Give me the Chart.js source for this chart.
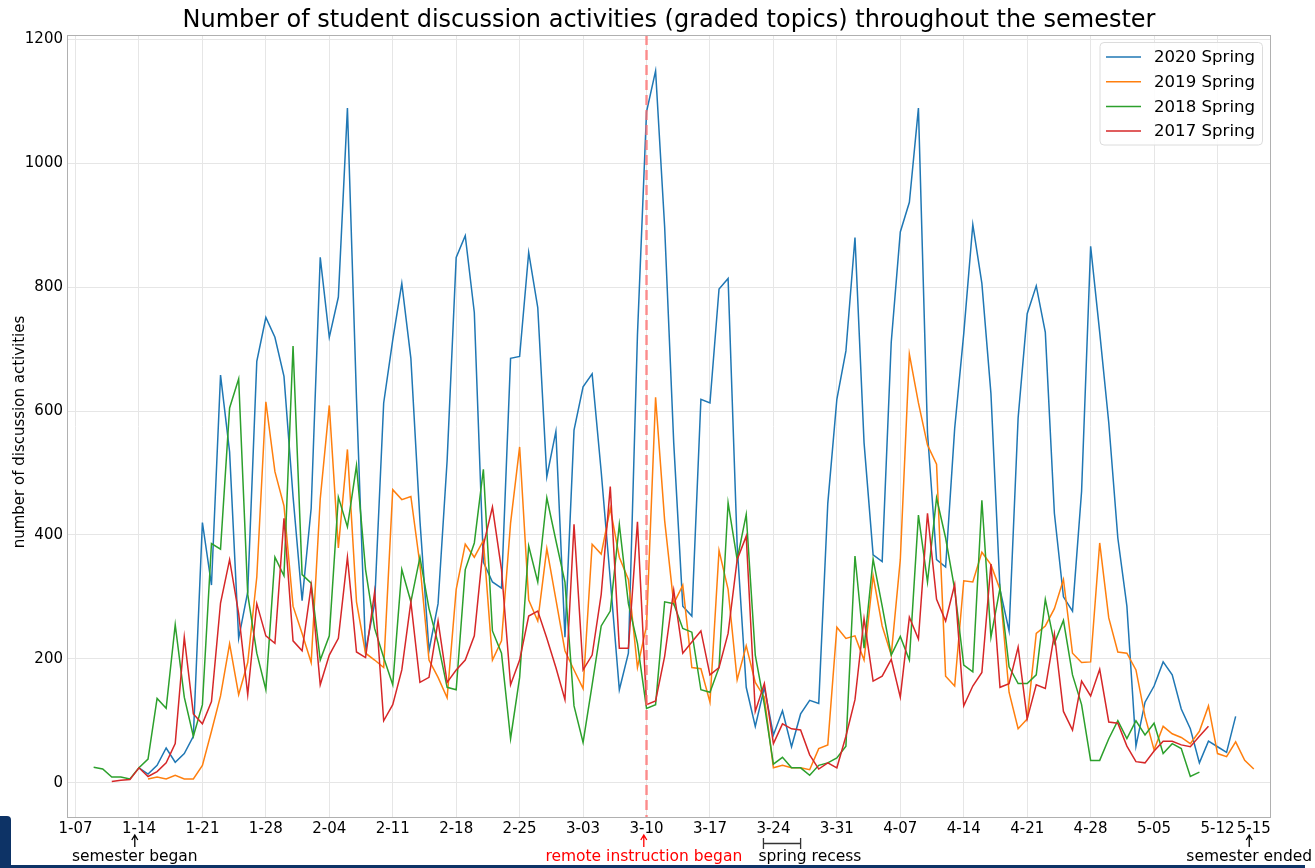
<!DOCTYPE html>
<html>
<head>
<meta charset="utf-8">
<script src="https://cdn.jsdelivr.net/npm/chart.js@4.4.1/dist/chart.umd.min.js"></script>
<style>
  html, body { margin: 0; padding: 0; background: #fff; }
  #wrap { position: relative; width: 1315px; height: 868px; overflow: hidden; }
  #chart { display: block; }
  .navy-block { position: absolute; left: 0; top: 816px; width: 11px; height: 52px; background: #0d3366; border-top-right-radius: 4px; }
  .navy-line { position: absolute; left: 0; top: 865px; width: 1305px; height: 3px; background: #0d3366; }
</style>
</head>
<body>
<div id="wrap">
  <canvas id="chart" width="1315" height="868"></canvas>
  <div class="navy-block"></div>
  <div class="navy-line"></div>
</div>
<script>
// 学期中のディスカッション件数（日別）。x は 1-07 からの経過日数。
const FONT = "'DejaVu Sans', sans-serif";

const TICK_DAYS = [0, 7, 14, 21, 28, 35, 42, 49, 56, 63, 70, 77, 84, 91, 98, 105, 112, 119, 126, 130];
const TICK_LABELS = ["1-07", "1-14", "1-21", "1-28", "2-04", "2-11", "2-18", "2-25", "3-03", "3-10",
  "3-17", "3-24", "3-31", "4-07", "4-14", "4-21", "4-28", "5-05", "5-12", "5-15"];
const Y_TICKS = [0, 200, 400, 600, 800, 1000, 1200];

const SERIES_NAMES = ["2020 Spring", "2019 Spring", "2018 Spring", "2017 Spring"];
const SERIES_COLORS = ["#1f77b4", "#ff7f0e", "#2ca02c", "#d62728"];

// first day of each series (days since 1-07)
const START_2020 = 7;
const START_2019 = 8;
const START_2018 = 2;
const START_2017 = 4;

const COUNTS_2020 = [24, 14, 28, 56, 33, 47, 75, 420, 319, 658, 534, 233, 308, 680, 751, 719, 656, 462, 294, 443,
  848, 719, 784, 1089, 620, 213, 289, 613, 715, 806, 685, 423, 213, 289, 520, 848, 883, 759, 356, 324,
  314, 685, 688, 856, 767, 494, 567, 235, 569, 639, 660, 502, 328, 150, 209, 723, 1083, 1149, 897, 549,
  285, 269, 619, 613, 797, 814, 383, 154, 91, 154, 77, 116, 58, 111, 133, 128, 451, 619, 697, 880,
  549, 368, 357, 711, 889, 937, 1089, 565, 360, 348, 572, 725, 901, 806, 628, 312, 245, 589, 757, 802,
  727, 435, 300, 277, 470, 866, 727, 581, 395, 285, 59, 130, 156, 195, 174, 119, 87, 32, 67, 58, 49, 107];

const COUNTS_2019 = [6, 9, 6, 12, 6, 6, 28, 83, 140, 224, 142, 194, 332, 615, 502, 447, 285, 241, 194, 458,
  609, 379, 538, 292, 209, 198, 186, 473, 457, 462, 352, 198, 170, 137, 312, 385, 364, 391, 198, 229,
  419, 542, 295, 261, 378, 296, 213, 182, 152, 385, 369, 443, 364, 328, 186, 253, 622, 423, 289, 319,
  186, 184, 130, 375, 312, 166, 221, 162, 138, 24, 28, 24, 24, 21, 55, 61, 251, 233, 237, 198,
  334, 253, 206, 360, 692, 613, 545, 514, 172, 156, 326, 324, 372, 352, 312, 146, 87, 103, 241, 253,
  281, 328, 209, 194, 195, 387, 266, 211, 209, 182, 107, 53, 91, 79, 73, 63, 83, 124, 47, 42, 66, 36, 22];

const COUNTS_2018 = [25, 22, 9, 9, 6, 24, 38, 136, 120, 255, 138, 75, 126, 386, 377, 605, 652, 304, 209, 150,
  364, 334, 705, 336, 322, 198, 237, 461, 413, 512, 344, 249, 202, 158, 344, 292, 364, 281, 225, 154,
  150, 344, 387, 506, 245, 209, 71, 170, 382, 324, 460, 391, 324, 124, 65, 158, 253, 277, 417, 289,
  225, 120, 126, 292, 289, 249, 243, 150, 146, 186, 452, 360, 433, 206, 126, 30, 41, 24, 24, 12,
  28, 32, 40, 59, 366, 217, 361, 285, 206, 236, 198, 432, 324, 460, 395, 312, 190, 179, 456, 235,
  314, 187, 160, 160, 174, 296, 225, 262, 174, 126, 36, 36, 71, 100, 71, 100, 77, 96, 47, 63, 55, 10, 17];

const COUNTS_2017 = [2, 4, 5, 24, 10, 18, 32, 63, 235, 111, 95, 131, 290, 360, 273, 142, 289, 237, 225, 427,
  229, 213, 318, 158, 206, 233, 364, 211, 202, 308, 100, 126, 182, 292, 162, 170, 261, 162, 182, 198,
  237, 383, 445, 344, 158, 198, 269, 277, 233, 186, 134, 417, 182, 206, 304, 478, 217, 217, 421, 126,
  132, 204, 311, 209, 227, 245, 174, 186, 241, 360, 398, 115, 160, 63, 95, 87, 85, 45, 22, 32,
  24, 75, 134, 265, 164, 172, 199, 138, 267, 232, 435, 296, 261, 320, 124, 156, 178, 353, 154, 160,
  219, 103, 158, 152, 240, 115, 85, 164, 140, 183, 98, 96, 59, 34, 32, 51, 67, 67, 61, 58, 75, 91];

const REMOTE_DAY = 63;

const toPoints = (start, values) => values.map((v, i) => ({ x: start + i, y: v }));

const seriesData = [
  toPoints(START_2020, COUNTS_2020),
  toPoints(START_2019, COUNTS_2019),
  toPoints(START_2018, COUNTS_2018),
  toPoints(START_2017, COUNTS_2017),
];

function arrowUp(ctx, x, yTop, yBottom, color) {
  ctx.save();
  ctx.strokeStyle = color;
  ctx.lineWidth = 1.3;
  ctx.beginPath();
  ctx.moveTo(x, yBottom);
  ctx.lineTo(x, yTop);
  ctx.moveTo(x - 3, yTop + 5);
  ctx.lineTo(x, yTop);
  ctx.lineTo(x + 3, yTop + 5);
  ctx.stroke();
  ctx.restore();
}

const decorations = {
  id: "decorations",
  afterDatasetsDraw(chart) {
    const { ctx, chartArea: a, scales: { x } } = chart;
    // 遠隔授業開始の破線
    const rx = x.getPixelForValue(REMOTE_DAY);
    ctx.save();
    ctx.strokeStyle = "rgba(255,110,110,0.75)";
    ctx.lineWidth = 2.5;
    ctx.setLineDash([10, 5]);
    ctx.beginPath();
    ctx.moveTo(rx, a.top);
    ctx.lineTo(rx, a.bottom);
    ctx.stroke();
    ctx.restore();
  },
  afterDraw(chart) {
    const { ctx, chartArea: a, scales: { x } } = chart;
    ctx.save();

    // frame
    ctx.strokeStyle = "#b0b0b0";
    ctx.lineWidth = 1;
    ctx.strokeRect(a.left + 0.5, a.top + 0.5, a.right - a.left - 1, a.bottom - a.top - 1);

    // title
    ctx.fillStyle = "#000";
    ctx.font = `24px ${FONT}`;
    ctx.textAlign = "center";
    ctx.textBaseline = "alphabetic";
    ctx.fillText("Number of student discussion activities (graded topics) throughout the semester", (a.left + a.right) / 2, 27);

    // y label
    ctx.save();
    ctx.translate(20, 432);
    ctx.rotate(-Math.PI / 2);
    ctx.font = `15px ${FONT}`;
    ctx.textBaseline = "middle";
    ctx.fillText("number of discussion activities", 0, 0);
    ctx.restore();

    // legend
    const lx = 1100, ly = 42.5, lw = 162.5, lh = 102.5;
    ctx.beginPath();
    ctx.roundRect(lx, ly, lw, lh, 4);
    ctx.fillStyle = "rgba(255,255,255,0.85)";
    ctx.fill();
    ctx.strokeStyle = "#dcdcdc";
    ctx.stroke();
    ctx.font = `16.6px ${FONT}`;
    ctx.textAlign = "left";
    ctx.textBaseline = "middle";
    chart.data.datasets.forEach((ds, i) => {
      const y = 57 + i * 24.7;
      ctx.strokeStyle = ds.borderColor;
      ctx.lineWidth = 1.5;
      ctx.beginPath();
      ctx.moveTo(1106, y);
      ctx.lineTo(1141, y);
      ctx.stroke();
      ctx.fillStyle = "#000";
      ctx.fillText(ds.label, 1154, y + 1);
    });

    // annotations under the axis
    ctx.font = `15.5px ${FONT}`;
    ctx.textAlign = "center";
    ctx.textBaseline = "middle";
    const labelY = 857;

    const beganX = x.getPixelForValue(6.54);
    arrowUp(ctx, beganX, 835, 847, "#000");
    ctx.fillStyle = "#000";
    ctx.fillText("semester began", beganX, labelY);

    const remoteX = x.getPixelForValue(REMOTE_DAY - 0.3);
    arrowUp(ctx, remoteX, 835, 847, "#ff0000");
    ctx.fillStyle = "#ff0000";
    ctx.fillText("remote instruction began", remoteX, labelY);

    const r0 = x.getPixelForValue(75.9), r1 = x.getPixelForValue(80);
    ctx.strokeStyle = "#333";
    ctx.lineWidth = 1.3;
    ctx.beginPath();
    ctx.moveTo(r0, 843.5); ctx.lineTo(r1, 843.5);
    ctx.moveTo(r0, 838); ctx.lineTo(r0, 849);
    ctx.moveTo(r1, 838); ctx.lineTo(r1, 849);
    ctx.stroke();
    ctx.fillStyle = "#000";
    ctx.textAlign = "left";
    ctx.fillText("spring recess", r0 - 5, labelY);

    const endX = x.getPixelForValue(129.5);
    arrowUp(ctx, endX, 835, 847, "#000");
    ctx.textAlign = "center";
    ctx.fillText("semester ended", endX, labelY);

    ctx.restore();
  },
};

new Chart(document.getElementById("chart"), {
  type: "line",
  data: {
    datasets: seriesData.map((pts, i) => ({
      label: SERIES_NAMES[i],
      data: pts,
      borderColor: SERIES_COLORS[i],
      backgroundColor: SERIES_COLORS[i],
      borderWidth: 1.5,
      pointRadius: 0,
      tension: 0,
      fill: false,
      order: 3 - i,
    })),
  },
  plugins: [decorations],
  options: {
    responsive: false,
    animation: false,
    devicePixelRatio: 1,
    layout: { padding: { top: 35, right: 44, left: 0, bottom: 0 } },
    plugins: { legend: { display: false }, tooltip: { enabled: false } },
    scales: {
      x: {
        type: "linear",
        min: -0.94,
        max: 131.9,
        afterFit: (s) => { s.height = 50; },
        afterBuildTicks: (s) => { s.ticks = TICK_DAYS.map((v) => ({ value: v })); },
        ticks: {
          autoSkip: false,
          maxRotation: 0,
          padding: 2,
          color: "#000",
          font: { family: FONT, size: 15 },
          callback: (v) => TICK_LABELS[TICK_DAYS.indexOf(v)],
        },
        grid: {
          color: (c) => (c.tick && c.tick.value === 130 ? "rgba(0,0,0,0)" : "#e6e6e6"),
          drawTicks: false,
        },
        border: { display: false },
      },
      y: {
        min: -57,
        max: 1207,
        afterFit: (s) => { s.width = 67; },
        afterBuildTicks: (s) => { s.ticks = Y_TICKS.map((v) => ({ value: v })); },
        ticks: {
          padding: 4,
          color: "#000",
          font: { family: FONT, size: 15 },
          callback: (v) => String(v),
        },
        grid: { color: "#e6e6e6", drawTicks: false },
        border: { display: false },
      },
    },
  },
});
</script>
</body>
</html>
